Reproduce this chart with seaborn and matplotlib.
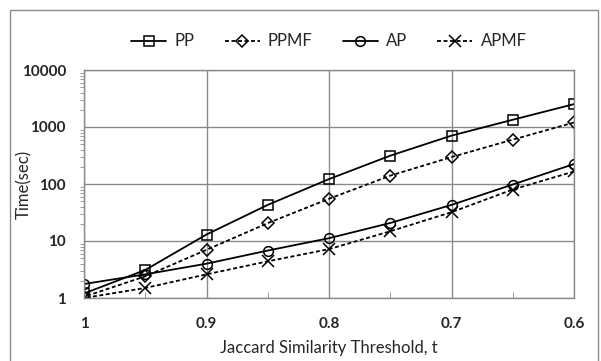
import matplotlib
matplotlib.use("Agg")
import matplotlib.pyplot as plt
import matplotlib.ticker as mticker
from matplotlib.patches import Rectangle
import numpy as np
import pandas as pd
import seaborn as sns

thresholds = [1.0, 0.95, 0.9, 0.85, 0.8, 0.75, 0.7, 0.65, 0.6]
pp = [1.2, 3.1, 13, 43, 122, 314, 705, 1340, 2520]
ppmf = [1.05, 2.4, 7.0, 20.6, 55, 140, 297, 600, 1200]
ap = [1.76, 2.6, 4.0, 6.8, 11.2, 20.7, 43, 98, 224]
apmf = [1.0, 1.5, 2.6, 4.4, 7.2, 14.8, 32, 80, 166]
series_names = ["PP", "PPMF", "AP", "APMF"]
x_tick_labels = ["1", "0.9", "0.8", "0.7", "0.6"]

dash = (0, (2.2, 1.4))
styles = {
    "PP": ("-", "s", 7),
    "PPMF": (dash, "D", 6),
    "AP": ("-", "o", 7),
    "APMF": (dash, "x", 8),
}

sns.set_style("white")
plt.rcParams["font.family"] = ["Lato", "DejaVu Sans"]

df = pd.DataFrame({"t": thresholds, "PP": pp, "PPMF": ppmf, "AP": ap, "APMF": apmf})
long_df = df.melt(id_vars="t", var_name="method", value_name="time")

fig = plt.figure(figsize=(6.01, 3.61), dpi=100)
ax = fig.add_axes([84 / 601, 1 - 298 / 361, (574 - 84) / 601, (298 - 70) / 361])

for name in series_names:
    ls, mk, ms = styles[name]
    sub = long_df[long_df["method"] == name]
    sns.lineplot(data=sub, x="t", y="time", ax=ax, color="black", linestyle=ls,
                 linewidth=1.3, marker=mk, markersize=ms, markerfacecolor="none",
                 markeredgecolor="black", markeredgewidth=1.1, label=name)

ax.set_yscale("log")
ax.set_ylim(1, 10000)
ax.set_xlim(1.0, 0.6)
ax.set_xticks([1.0, 0.9, 0.8, 0.7, 0.6])
ax.set_xticklabels(x_tick_labels)
ax.xaxis.set_minor_locator(mticker.FixedLocator([0.95, 0.85, 0.75, 0.65]))
ax.yaxis.set_major_formatter(mticker.FuncFormatter(lambda v, p: f"{int(round(v))}"))
ax.yaxis.set_minor_locator(mticker.LogLocator(base=10, subs=np.arange(2, 10)))
ax.yaxis.set_minor_formatter(mticker.NullFormatter())

ax.grid(True, which="major", color="#8a8a8a", linewidth=1.0)
for s in ax.spines.values():
    s.set_color("#8a8a8a")
    s.set_linewidth(1.0)

ax.tick_params(axis="y", which="major", direction="out", length=5, color="#8a8a8a",
               labelsize=11, pad=8)
ax.tick_params(axis="y", which="minor", direction="out", length=3, color="#8a8a8a", left=True)
ax.tick_params(axis="x", which="major", direction="out", length=0, labelsize=11, pad=14)
ax.tick_params(axis="x", which="minor", direction="in", length=4, color="#8a8a8a", bottom=True)
for lbl in ax.get_xticklabels() + ax.get_yticklabels():
    lbl.set_fontweight("bold")

ax.set_xlabel("Jaccard Similarity Threshold, t", fontsize=12)
ax.set_ylabel("Time(sec)", fontsize=12)
ax.xaxis.set_label_coords(0.5, (298 - 348) / 228, transform=ax.transAxes)
ax.yaxis.set_label_coords((24 - 84) / 490, 0.5, transform=ax.transAxes)
ax.xaxis.label.set_verticalalignment("center")
ax.yaxis.label.set_verticalalignment("center")

ax.legend(loc="center", bbox_to_anchor=(0.5, 1.125), ncol=4, frameon=False,
          fontsize=12, handlelength=2.1, columnspacing=1.8, handletextpad=0.5)

fig.patches.append(Rectangle((10 / 601, -0.02), 588 / 601, 1 - 10 / 361 + 0.02,
                             transform=fig.transFigure, fill=False,
                             edgecolor="#8a8a8a", linewidth=1.0))

fig.savefig("out.png", dpi=100)
